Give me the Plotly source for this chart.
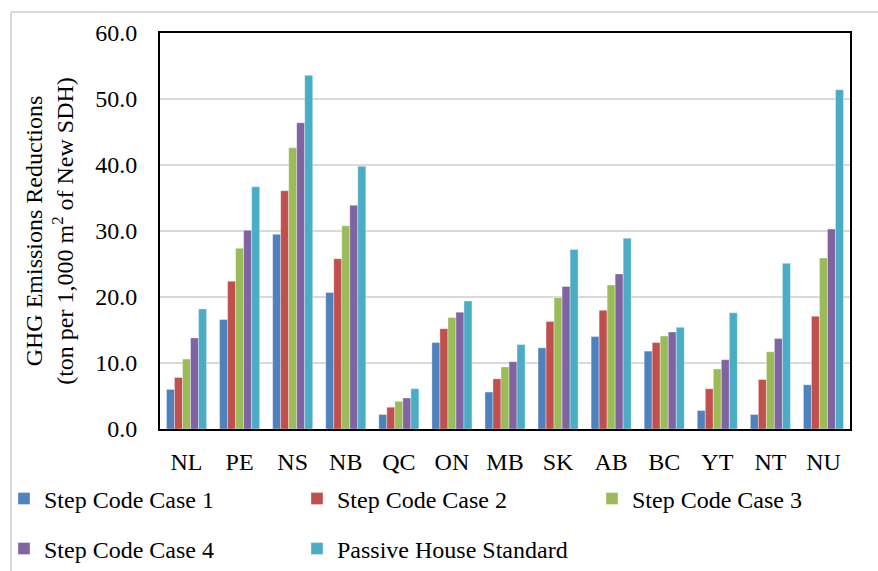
import plotly.graph_objects as go

provinces = ["NL", "PE", "NS", "NB", "QC", "ON", "MB", "SK", "AB", "BC", "YT", "NT", "NU"]

case1 = [6.0, 16.6, 29.5, 20.7, 2.2, 13.1, 5.6, 12.3, 14.0, 11.8, 2.8, 2.2, 6.7]
case2 = [7.8, 22.4, 36.1, 25.8, 3.3, 15.2, 7.6, 16.3, 18.0, 13.1, 6.1, 7.5, 17.1]
case3 = [10.6, 27.4, 42.6, 30.8, 4.2, 16.9, 9.4, 19.9, 21.8, 14.1, 9.1, 11.7, 25.9]
case4 = [13.8, 30.1, 46.4, 33.9, 4.7, 17.7, 10.2, 21.6, 23.5, 14.7, 10.5, 13.7, 30.3]
passive = [18.2, 36.7, 53.6, 39.8, 6.1, 19.4, 12.8, 27.2, 28.9, 15.4, 17.6, 25.1, 51.4]

series_names = ["Step Code Case 1", "Step Code Case 2", "Step Code Case 3",
                "Step Code Case 4", "Passive House Standard"]
series_values = [case1, case2, case3, case4, passive]
series_colors = ["#4F81BD", "#C0504D", "#9BBB59", "#8064A2", "#4BACC6"]

y_ticks = [0, 10, 20, 30, 40, 50, 60]

FONT = "Liberation Serif, Times New Roman, serif"

# plot area in pixels: x 160..850, y 33..429 on an 878x571 canvas
W, H = 878, 571
L, R, T, B = 160, 28, 33, 142
PW, PH = W - L - R, H - T - B


def px_x(px):
    return (px - L) / PW


def px_y(py):
    return (H - B - py) / PH


# one small legend per entry, laid out in a 3 + 2 grid under the chart
legend_slots = [(4, 499), (297, 499), (592, 499), (4, 549), (297, 549)]
legend_ids = ["legend", "legend2", "legend3", "legend4", "legend5"]

fig = go.Figure()
for name, vals, color, lid in zip(series_names, series_values, series_colors, legend_ids):
    fig.add_trace(go.Bar(
        x=provinces, y=vals, name=name,
        marker=dict(color=color, line=dict(color="rgba(255,255,255,0.6)", width=0.6)),
        legend=lid,
    ))

layout_legends = {}
for lid, (lx, ly) in zip(legend_ids, legend_slots):
    layout_legends[lid] = dict(
        x=px_x(lx), y=px_y(ly), xanchor="left", yanchor="middle",
        orientation="v", bgcolor="rgba(0,0,0,0)",
        font=dict(family=FONT, size=24, color="#000000"),
        itemclick=False, itemdoubleclick=False,
    )

fig.update_layout(
    width=W, height=H,
    margin=dict(l=L, r=R, t=T, b=B, autoexpand=False),
    paper_bgcolor="white", plot_bgcolor="white",
    barmode="group", bargap=0.245, bargroupgap=0,
    font=dict(family=FONT, size=24, color="#000000"),
    showlegend=True,
    **layout_legends,
    xaxis=dict(
        showline=True, linecolor="#000000", linewidth=2, mirror=True,
        ticks="", ticklabelstandoff=10,
        tickfont=dict(family=FONT, size=24, color="#000000"),
        showgrid=False, fixedrange=True,
    ),
    yaxis=dict(
        range=[0, 60], tickvals=y_ticks, tickformat=".1f",
        showline=True, linecolor="#000000", linewidth=2, mirror=True,
        ticks="", ticklabelstandoff=16,
        tickfont=dict(family=FONT, size=24, color="#000000"),
        showgrid=True, gridcolor="#D9D9D9", gridwidth=1.5,
        zeroline=False, fixedrange=True,
        title=dict(
            text="GHG Emissions Reductions<br>(ton per 1,000 m<sup>2</sup> of New SDH)",
            font=dict(family=FONT, size=24, color="#000000"),
            standoff=15,
        ),
    ),
    shapes=[
        # thin grey frame along the top and left edges of the canvas
        dict(type="line", xref="paper", yref="paper",
             x0=px_x(11), x1=px_x(W + 5), y0=px_y(12), y1=px_y(12),
             line=dict(color="#D9D9D9", width=2), layer="below"),
        dict(type="line", xref="paper", yref="paper",
             x0=px_x(11), x1=px_x(11), y0=px_y(12), y1=px_y(H + 5),
             line=dict(color="#D9D9D9", width=2), layer="below"),
    ],
)

fig.write_html("out.html", config={"displayModeBar": False})
